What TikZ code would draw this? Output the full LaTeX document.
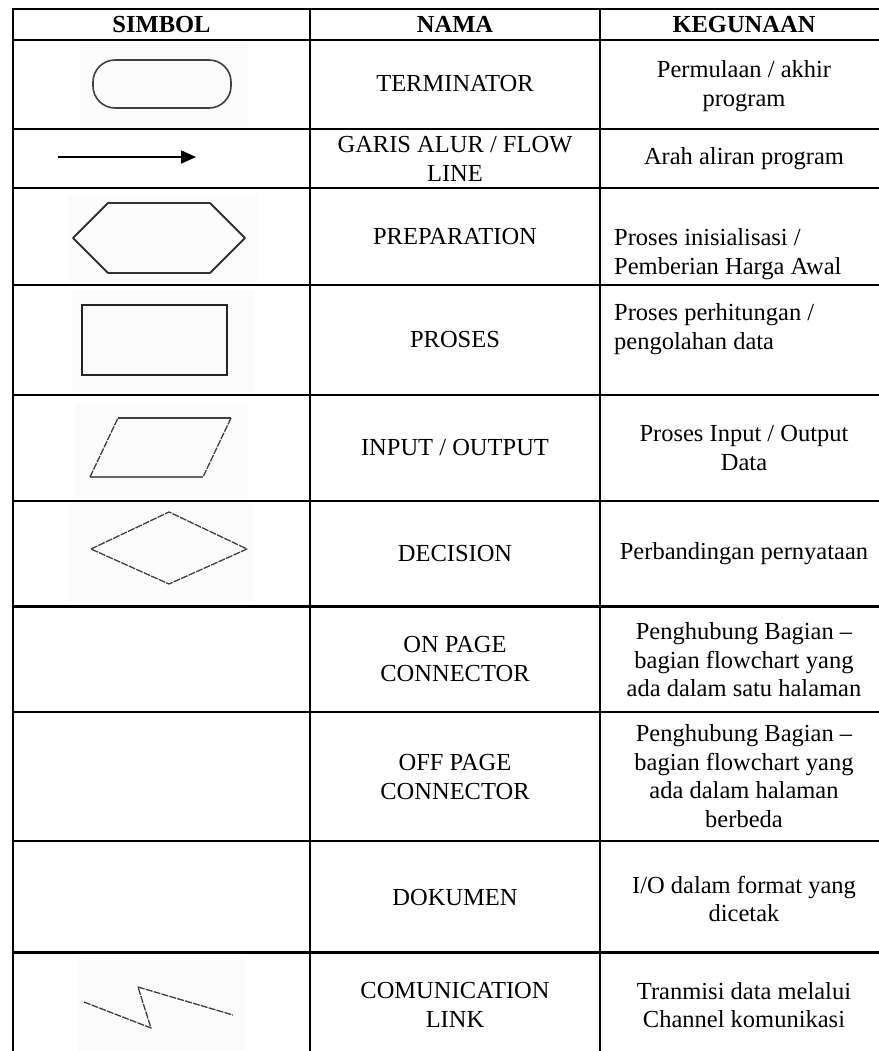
\documentclass[tikz,border=0pt]{standalone}
\usepackage{fontspec}
\setmainfont{Liberation Serif}
\usetikzlibrary{arrows.meta}
\begin{document}
\begin{tikzpicture}[x=1pt,y=-1pt,
  grid/.style={line width=2.3pt, black, line cap=rect},
  cell/.style={align=center, inner sep=0pt, font=\fontsize{24.5}{28.5}\selectfont},
  head/.style={cell, font=\bfseries\fontsize{24.5}{28.5}\selectfont},
  lcell/.style={cell, align=left, anchor=west},
  patch/.style={fill=black!1.5, draw=none},
  solidsym/.style={line width=1.8pt, draw=black!80, line join=round},
  thinsym/.style={line width=1.3pt, draw=black!75, dash pattern=on 7pt off 1.2pt, line join=round}
]
\useasboundingbox (0,0) rectangle (878,1051);
\fill[white] (0,0) rectangle (878,1051);

% faint backgrounds behind the pasted symbols
\fill[patch] (80,42) rectangle (248,127);
\fill[patch] (68,195) rectangle (258,282);
\fill[patch] (72,290) rectangle (255,392);
\fill[patch] (75,403) rectangle (248,498);
\fill[patch] (68,503) rectangle (253,602);
\fill[patch] (77,957) rectangle (245,1051);

% table rules
\foreach \y in {9.3,40,129.3,188.3,285,395,501,606.5,712,841,952.5}
  \draw[grid] (13,\y) -- (900,\y);
\foreach \x in {13,310,600}
  \draw[grid] (\x,9.3) -- (\x,1070);

% header
\node[head] (hSimbol) at (161.5,24.5) {SIMBOL};
\node[head] (hNama) at (455,24.5) {NAMA};
\node[head] (hGuna) at (744,24.5) {KEGUNAAN};

% symbols
\draw[solidsym, line width=1.6pt, draw=black!75, rounded corners=22pt] (93,60) rectangle (231,108);
\coordinate (flA) at (58,157);
\coordinate (flB) at (196,157);
\draw[line width=2pt, -{Triangle[length=15pt,width=13pt]}] (flA) -- (flB);
\draw[solidsym] (73,238) -- (108,203) -- (210,203) -- (245,238) -- (210,273) -- (108,273) -- cycle;
\draw[line width=2.8pt, draw=black!85] (82,305) rectangle (227,375);
\draw[line width=1.3pt, draw=black!75] (118,418) -- (231,418);
\draw[line width=1.3pt, draw=black!60] (90,477) -- (203,477);
\draw[thinsym] (231,418) -- (203,477);
\draw[thinsym] (90,477) -- (118,418);
\draw[thinsym] (91,549) -- (169,512) -- (247,549) -- (169,584) -- cycle;
\draw[thinsym] (84,1002) -- (151,1028) -- (138,987) -- (233,1015);

% names
\node[cell] (nTerm) at (455,84) {TERMINATOR};
\node[cell] (nFlow) at (455,159) {GARIS ALUR / FLOW\\LINE};
\node[cell] (nPrep) at (455,236.5) {PREPARATION};
\node[cell] (nProc) at (455,340) {PROSES};
\node[cell] (nIO) at (455,448) {INPUT / OUTPUT};
\node[cell] (nDec) at (455,553.5) {DECISION};
\node[cell] (nOn) at (455,659) {ON PAGE\\CONNECTOR};
\node[cell] (nOff) at (455,777) {OFF PAGE\\CONNECTOR};
\node[cell] (nDoc) at (455,897) {DOKUMEN};
\node[cell] (nComm) at (455,1005) {COMUNICATION\\LINK};

% uses
\node[cell] (gTerm) at (744,86) {Permulaan / akhir\\program};
\node[cell] (gFlow) at (744,159) {Arah aliran program};
\node[lcell] (gPrep) at (614,254) {Proses inisialisasi /\\Pemberian Harga Awal};
\node[lcell] (gProc) at (614,329) {Proses perhitungan /\\pengolahan data};
\node[cell] (gIO) at (744,448) {Proses Input / Output\\Data};
\node[cell] (gDec) at (744,553.5) {Perbandingan pernyataan};
\node[cell] (gOn) at (744,660) {Penghubung Bagian --\\bagian flowchart yang\\ada dalam satu halaman};
\node[cell] (gOff) at (744,776) {Penghubung Bagian --\\bagian flowchart yang\\ada dalam halaman\\berbeda};
\node[cell] (gDoc) at (744,899) {I/O dalam format yang\\dicetak};
\node[cell] (gComm) at (744,1005) {Tranmisi data melalui\\Channel komunikasi};
\end{tikzpicture}
\end{document}
